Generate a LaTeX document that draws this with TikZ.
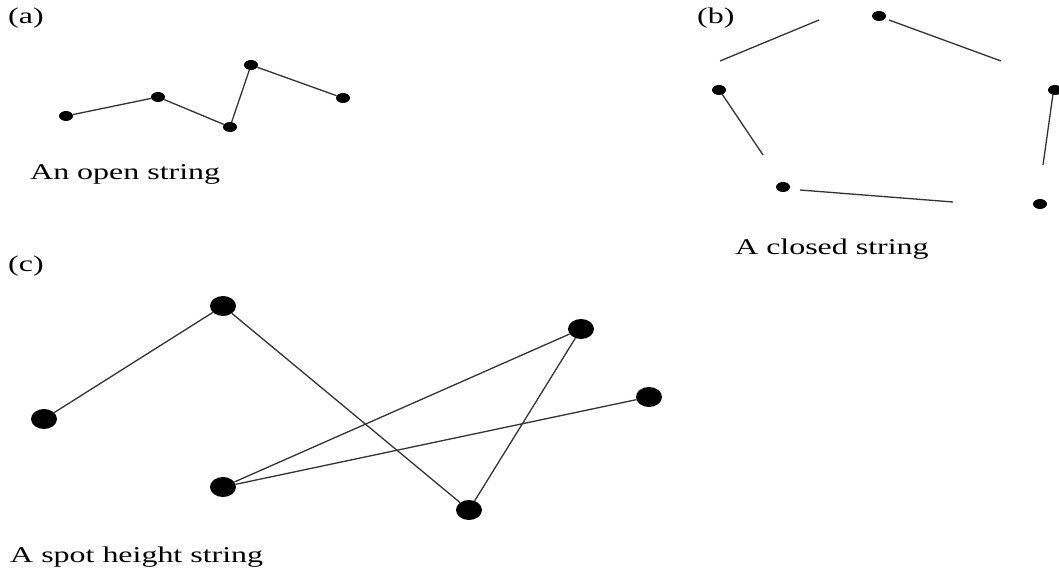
\documentclass[tikz,border=0pt]{standalone}
\usepackage{fontspec}
\setmainfont{Liberation Serif}
\usetikzlibrary{shapes.geometric}
\tikzset{
  sdot/.style={ellipse,fill=black,inner sep=0pt,minimum width=14pt,minimum height=10pt},
  bdot/.style={ellipse,fill=black,inner sep=0pt,minimum width=26pt,minimum height=20pt},
  seg/.style={draw=black!80,line width=1.3pt},
  lbl/.style={anchor=base west,inner sep=0pt,font=\fontsize{22.5}{26}\selectfont}
}
\newcommand{\wide}[1]{\scalebox{1.42}[1]{#1}}
\begin{document}
\begin{tikzpicture}[x=1pt,y=1pt]
\useasboundingbox (0,0) rectangle (1059,570);
% (a)
\node[lbl] (la) at (8,546) {\wide{(a)}};
\node[sdot] (a1) at (66,454) {};
\node[sdot] (a2) at (158,473) {};
\node[sdot] (a3) at (230,443) {};
\node[sdot] (a4) at (251,505) {};
\node[sdot] (a5) at (343,472) {};
\draw[seg] (a1) -- (a2) -- (a3) -- (a4) -- (a5);
\node[lbl] (ta) at (30,390) {\wide{An open string}};
% (b)
\node[lbl] (lb) at (697,546) {\wide{(b)}};
\node[sdot] (b1) at (879,554) {};
\node[sdot] (b2) at (719,480) {};
\node[sdot] (b3) at (1055,480) {};
\node[sdot] (b4) at (783,383) {};
\node[sdot] (b5) at (1040,366) {};
\coordinate (p1) at (720,509); \coordinate (p2) at (819,550);
\coordinate (p3) at (889,550); \coordinate (p4) at (1001,509);
\coordinate (p5) at (722,476); \coordinate (p6) at (763,415);
\coordinate (p7) at (800,380); \coordinate (p8) at (953,368);
\coordinate (p9) at (1053,476); \coordinate (p10) at (1043,405);
\draw[seg] (p1) -- (p2);
\draw[seg] (p3) -- (p4);
\draw[seg] (p5) -- (p6);
\draw[seg] (p7) -- (p8);
\draw[seg] (p9) -- (p10);
\node[lbl] (tb) at (735,315) {\wide{A closed string}};
% (c)
\node[lbl] (lc) at (8,298) {\wide{(c)}};
\node[bdot] (c1) at (44,151) {};
\node[bdot] (c2) at (223,264) {};
\node[bdot] (c3) at (581,241) {};
\node[bdot] (c4) at (649,173) {};
\node[bdot] (c5) at (223,83) {};
\node[bdot] (c6) at (469,60) {};
\draw[seg] (c1) -- (c2);
\draw[seg] (c2) -- (c6);
\draw[seg] (c6) -- (c3);
\draw[seg] (c3) -- (c5);
\draw[seg] (c5) -- (c4);
\node[lbl] (tc) at (10,8) {\wide{A spot height string}};
\end{tikzpicture}
\end{document}
